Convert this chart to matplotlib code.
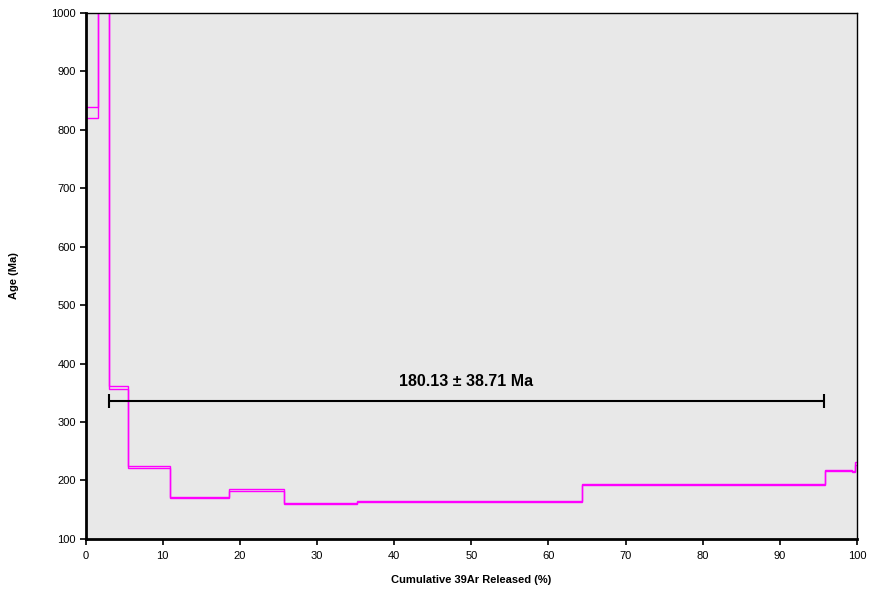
import matplotlib.pyplot as plt
import numpy as np

plt.rcParams['font.family'] = ['Liberation Sans', 'DejaVu Sans']

# cumulative 39Ar released (%) - step edges
cum_39ar = [0, 1.6, 3.1, 5.5, 10.95, 18.6, 25.7, 35.2, 64.3, 95.8, 99.3, 99.8, 100]
# age bounds of each step (Ma)
age_low = [820, 1150, 357, 221.5, 170.5, 181.5, 159.5, 163.5, 191.5, 216, 214.5, 226]
age_high = [838, 1200, 362, 225.5, 172, 185.5, 162, 165, 194, 218.5, 217, 231]

plateau_from = 3.1
plateau_to = 95.7
plateau_level = 336
plateau_text = '180.13 \u00b1 38.71 Ma'

fig = plt.figure(figsize=(8.69, 5.91), dpi=100)
ax = fig.add_axes([0.0984, 0.088, 0.8878, 0.8908])
ax.set_facecolor('#E8E8E8')

ax.stairs(age_high, cum_39ar, baseline=None, color='#FF00FF', linewidth=1.0)
ax.stairs(age_low, cum_39ar, baseline=None, color='#FF00FF', linewidth=1.0)

mid = (plateau_from + plateau_to) / 2
half = (plateau_to - plateau_from) / 2
ax.errorbar(mid, plateau_level, xerr=half, fmt='none', ecolor='black',
            elinewidth=1.5, capsize=5, capthick=1.5)
ax.text(49.3, 369, plateau_text, ha='center', va='center',
        fontsize=11.5, fontweight='bold')

ax.set_xlim(0, 100)
ax.set_ylim(100, 1000)
ax.set_xticks(np.arange(0, 101, 10))
ax.set_yticks(np.arange(100, 1001, 100))
ax.tick_params(direction='out', length=4, width=1.2, labelsize=8, pad=3)
ax.tick_params(axis='x', pad=5)

for side in ['left', 'bottom']:
    ax.spines[side].set_linewidth(2.0)
for side in ['top', 'right']:
    ax.spines[side].set_linewidth(1.0)

ax.set_xlabel('Cumulative 39Ar Released (%)', fontsize=8, fontweight='bold', labelpad=10)
ax.set_ylabel('Age (Ma)', fontsize=8, fontweight='bold', labelpad=23)

fig.savefig('out.png', dpi=100)
